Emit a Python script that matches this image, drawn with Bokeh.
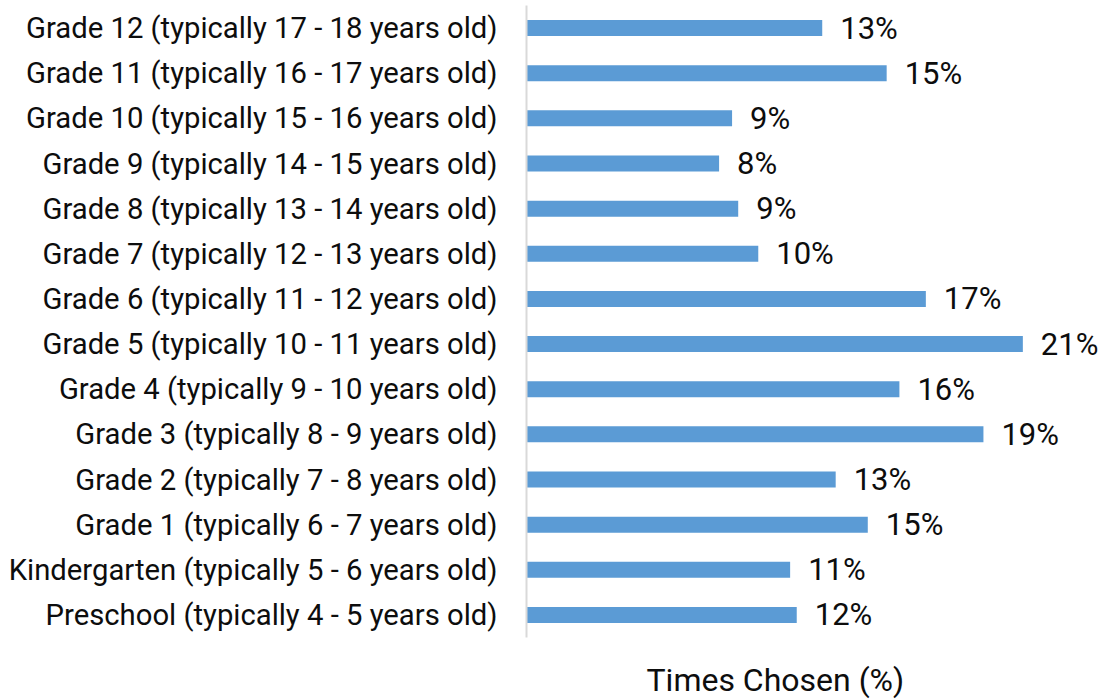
from bokeh.plotting import figure
from bokeh.models import ColumnDataSource, FactorRange, Range1d, Title
from bokeh.core.properties import value
from bokeh.embed import file_html
from bokeh.resources import INLINE

# Categories listed top to bottom as in the chart
categories = [
    "Grade 12 (typically 17 - 18 years old)",
    "Grade 11 (typically 16 - 17 years old)",
    "Grade 10 (typically 15 - 16 years old)",
    "Grade 9 (typically 14 - 15 years old)",
    "Grade 8 (typically 13 - 14 years old)",
    "Grade 7 (typically 12 - 13 years old)",
    "Grade 6 (typically 11 - 12 years old)",
    "Grade 5 (typically 10 - 11 years old)",
    "Grade 4 (typically 9 - 10 years old)",
    "Grade 3 (typically 8 - 9 years old)",
    "Grade 2 (typically 7 - 8 years old)",
    "Grade 1 (typically 6 - 7 years old)",
    "Kindergarten (typically 5 - 6 years old)",
    "Preschool (typically 4 - 5 years old)",
]
times_chosen = [12.53, 15.26, 8.71, 8.16, 8.97, 9.82, 16.92, 21.03, 15.80, 19.36, 13.10, 14.46, 11.17, 11.45]
value_labels = ["13%", "15%", "9%", "8%", "9%", "10%", "17%", "21%", "16%", "19%", "13%", "15%", "11%", "12%"]
x_title = "Times Chosen (%)"

FONT = "Roboto"
source = ColumnDataSource(dict(cat=categories, val=times_chosen, lab=value_labels))

p = figure(
    y_range=FactorRange(factors=list(reversed(categories)), range_padding=0),
    x_range=Range1d(0, 24.32),
    frame_width=574, frame_height=632,
    min_border_left=526, min_border_right=0, min_border_top=5, min_border_bottom=0,
    output_backend="svg", toolbar_location=None,
)
p.outline_line_color = None
p.background_fill_color = "white"
p.border_fill_color = "white"
p.xgrid.visible = False
p.ygrid.visible = False

p.hbar(y="cat", right="val", left=0, height=0.355, source=source,
       fill_color="#5B9BD5", line_color=None)
p.text(x="val", y="cat", text="lab", source=source, x_offset=18,
       text_baseline="middle", text_align="left",
       text_font=value(FONT), text_font_size="31px", text_color="#0d0d0d")

p.xaxis.visible = False

ya = p.yaxis[0]
ya.axis_line_color = "#d9d9d9"
ya.axis_line_width = 2
ya.major_tick_line_color = None
ya.minor_tick_line_color = None
ya.major_tick_out = 0
ya.major_label_standoff = 29
ya.major_label_text_font = FONT
ya.major_label_text_font_size = "29.25px"
ya.major_label_text_color = "#0d0d0d"

t = Title(text=x_title, align="left", offset=120, text_font=FONT,
          text_font_size="32px", text_font_style="normal", text_color="#0d0d0d",
          standoff=42)
p.add_layout(t, "below")

open("out.html", "w").write(file_html(p, INLINE))
